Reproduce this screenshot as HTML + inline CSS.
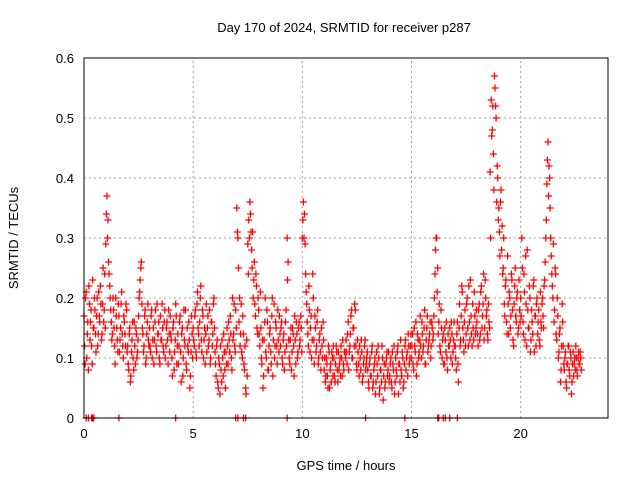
<!DOCTYPE html>
<html><head><meta charset="utf-8"><style>
body{margin:0;background:#fff}
svg{display:block;font-family:"Liberation Sans",Arial,sans-serif}
</style></head><body>
<svg id="chart" width="640" height="480" viewBox="0 0 640 480">
<rect width="640" height="480" fill="#fff"/>
<text x="344" y="32" font-size="13" text-anchor="middle">Day 170 of 2024, SRMTID for receiver p287</text>
<text x="346" y="470" font-size="13" text-anchor="middle">GPS time / hours</text>
<text transform="translate(18,238) rotate(-90)" font-size="13" text-anchor="middle">SRMTID / TECUs</text>
<g id="grid"></g>
<g id="ticks"></g>
<g id="marks"></g>
<rect x="84" y="58" width="524" height="360" fill="none" stroke="#000" stroke-width="1"/>
</svg>
<script>
const xTicks=[0,5,10,15,20];
const yTicks=[0,0.1,0.2,0.3,0.4,0.5,0.6];
const yTickLabels=["0","0.1","0.2","0.3","0.4","0.5","0.6"];
// SRMTID in hundredths of TECU, 0.05 h sampling
const srmtidA=[
17,9,21,14,8,19,16,12,23,15,18,11,20,14,17,22,13,19,16,24,
29,37,33,24,20,16,14,18,12,20,15,11,17,13,19,14,10,16,12,18,
12,8,15,7,13,10,16,9,14,11,17,21,25,19,14,12,18,10,16,13,
15,11,18,13,9,16,12,19,14,10,17,13,15,11,18,12,16,9,14,17,
13,7,16,11,19,9,14,12,17,6,15,10,13,18,8,12,16,5,11,14,
15,12,18,10,21,14,16,22,11,17,13,9,19,15,12,18,10,16,14,20,
11,7,13,5,9,12,6,10,14,8,11,15,9,13,17,10,20,14,12,18,
35,30,16,12,19,10,14,8,5,13,29,33,36,31,25,20,26,17,22,14,
18,12,15,9,5,13,20,10,16,8,14,11,17,7,19,12,15,9,13,17,
12,16,9,14,11,18,30,26,10,13,8,15,12,17,9,14,11,16,13,15,
30,36,34,24,19,14,22,11,17,13,20,9,15,12,18,10,14,8,12,16,
8,6,10,7,12,5,9,11,7,10,6,12,8,11,9,7,10,13,8,11,
13,9,16,11,14,18,10,15,19,12,8,11,7,10,13,6,9,12,8,10,
8,5,10,7,12,6,9,4,11,7,10,5,8,12,3,9,6,10,7,11,
7,10,5,9,12,6,8,11,4,9,13,7,10,6,12,8,11,14,9,12,
10,14,8,12,16,9,13,11,17,10,14,12,18,9,15,11,13,16,12,15,
14,20,28,30,25,16,12,18,10,14,9,13,16,8,12,15,10,14,11,16,
12,8,16,6,19,13,22,15,11,18,14,20,12,16,23,14,19,13,17,15,
16,12,19,14,22,17,24,15,20,18,13,16,41,53,48,44,57,52,36,40,
35,27,38,32,25,19,22,16,27,14,20,17,23,13,19,25,16,21,15,18,
20,30,16,24,13,19,28,15,22,11,18,14,23,17,12,20,16,13,21,15,
20,15,23,30,39,46,42,35,27,22,29,18,24,13,17,11,15,8,19,12,
8,11,5,9,12,7,10,6,11,9,8,10,7,11,9,10];
const srmtidB=[
12,20,10,16,22,13,18,9,15,20,14,17,12,21,16,19,14,25,18,15,
34,30,26,22,18,13,20,15,9,17,13,19,11,15,21,12,17,14,19,11,
9,14,6,11,16,8,12,15,10,13,20,23,26,15,11,17,9,14,19,12,
12,17,10,15,13,18,11,14,16,9,13,19,12,16,10,15,13,18,11,14,
10,15,8,13,17,12,9,16,11,14,7,18,12,9,15,11,13,7,17,10,
13,17,11,19,15,12,20,13,18,10,15,14,11,17,13,9,16,12,19,15,
9,12,6,10,4,8,13,7,11,5,9,12,16,11,14,8,13,19,11,15,
31,25,20,14,11,17,9,12,4,7,24,30,34,28,31,23,19,24,15,20,
14,21,10,13,7,16,11,18,8,12,15,9,20,13,10,16,12,18,11,14,
15,10,13,8,16,12,23,13,9,15,11,14,7,13,16,10,15,12,17,11,
33,30,29,21,16,12,18,15,10,24,13,17,11,16,9,13,11,15,10,13,
10,7,9,5,11,8,6,10,12,7,9,11,6,8,10,12,7,9,11,10,
11,14,8,12,17,10,15,12,18,9,13,9,12,8,11,7,10,13,9,11,
6,9,7,11,5,8,10,6,9,12,4,8,6,10,7,5,9,11,8,6,
9,6,11,8,4,10,7,12,9,6,8,11,5,9,13,10,7,12,10,14,
12,9,15,11,7,14,10,13,12,16,11,15,9,13,17,12,14,10,16,13,
17,24,30,21,14,19,11,15,13,9,15,11,10,14,12,13,16,9,13,12,
10,14,9,15,12,17,21,13,16,12,19,15,22,13,17,12,15,21,14,18,
14,18,13,21,15,19,13,23,17,14,19,15,30,47,52,38,55,50,42,33,
31,36,28,24,30,17,23,14,19,21,15,24,18,12,22,17,20,14,23,16,
17,25,14,21,27,12,18,15,20,13,16,22,11,17,19,14,18,12,16,19,
17,22,26,33,43,37,40,30,24,20,16,25,14,20,10,14,6,12,16,9,
10,6,9,12,8,11,4,9,7,10,12,8,10,9,11,8];
const zeroTimes=[0.1,0.2,0.35,0.4,0.45,1.6,4.2,6.95,7.05,7.3,7.4,9.3,12.9,14.7,16.2,16.25,16.45,16.55,16.75,17.1];

const NS="http://www.w3.org/2000/svg";
const X0=84,X1=608,Y0=418,Y1=58;
const xs=t=>X0+(t/24)*(X1-X0);
const ys=v=>Y0-(v/0.6)*(Y0-Y1);
function mk(tag,attrs,parent){const e=document.createElementNS(NS,tag);for(const k in attrs)e.setAttribute(k,attrs[k]);parent.appendChild(e);return e;}
const grid=document.getElementById('grid'),ticks=document.getElementById('ticks'),marks=document.getElementById('marks');
xTicks.forEach(t=>{
  const x=xs(t);
  if(t>0){const g=mk('line',{x1:x,x2:x,y1:Y0,y2:Y1,stroke:'#a0a0a0','stroke-dasharray':'2,3'},grid);
  
  }
  const l=mk('text',{x:x,y:Y0+20,'font-size':'13','text-anchor':'middle'},ticks);
  l.textContent=String(t);
  
  
});
yTicks.forEach((v,i)=>{
  const y=ys(v);
  if(v>0){const g=mk('line',{x1:X0,x2:X1,y1:y,y2:y,stroke:'#a0a0a0','stroke-dasharray':'2,3'},grid);
  
  }
  const l=mk('text',{x:X0-10,y:y+5,'font-size':'13','text-anchor':'end'},ticks);
  l.textContent=yTickLabels[i];
  
  
});
let d='';
function plus(t,v){const x=xs(t),y=ys(v);d+=`M${(x-3.5).toFixed(1)} ${y.toFixed(1)}h7M${x.toFixed(1)} ${(y-3.5).toFixed(1)}v7`;}
srmtidA.forEach((c,i)=>plus(i*0.05,c/100));
srmtidB.forEach((c,i)=>plus(i*0.05+0.025,c/100));
zeroTimes.forEach(t=>plus(t,0));
const p=mk('path',{d:d,stroke:'#ff0000','stroke-width':'1.3',fill:'none'},marks);


</script>
</body></html>
